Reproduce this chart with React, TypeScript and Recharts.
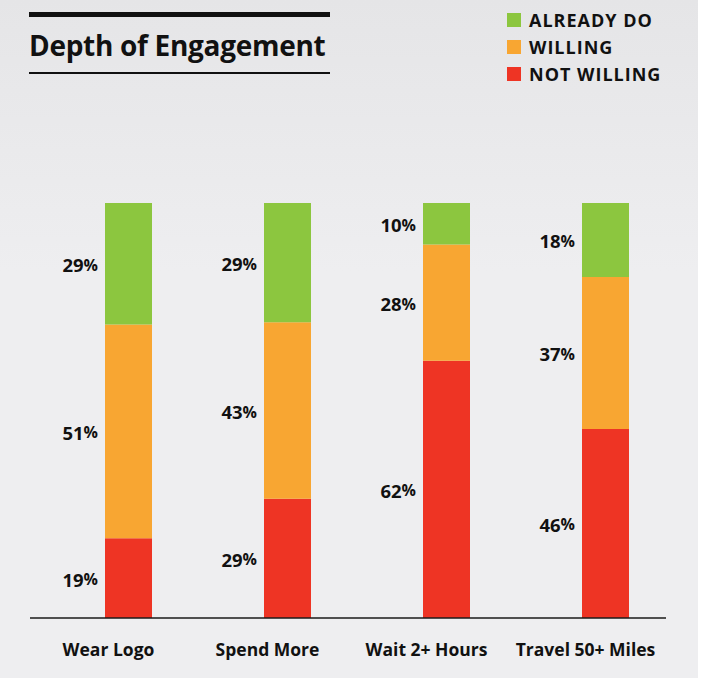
import { BarChart, Bar, XAxis, YAxis, LabelList, Rectangle } from "recharts";

const categories = ["Wear Logo", "Spend More", "Wait 2+ Hours", "Travel 50+ Miles"];
const notWilling = [19, 29, 62, 46];
const willing = [51, 43, 28, 37];
const alreadyDo = [29, 29, 10, 18];

const data = categories.map((name, i) => ({
  name,
  notWilling: notWilling[i],
  willing: willing[i],
  alreadyDo: alreadyDo[i],
}));

const FONT = "'Open Sans', 'Noto Sans', sans-serif";
const GREEN = "#8cc63f";
const ORANGE = "#f8a632";
const RED = "#ee3424";
// bars sit a little right of their category label
const SHIFT = 19;

const legendItems = [
  { label: "ALREADY DO", color: GREEN },
  { label: "WILLING", color: ORANGE },
  { label: "NOT WILLING", color: RED },
];

function ShiftedBar(props: any) {
  return <Rectangle {...props} x={props.x + SHIFT} />;
}

function PctLabel(props: any) {
  const { x, y, height, value } = props;
  if (value == null) return null;
  return (
    <text
      x={x + SHIFT - 7}
      y={y + height / 2 + 1}
      textAnchor="end"
      dominantBaseline="central"
      fontFamily={FONT}
      fontWeight={700}
      fontSize={18.5}
      fill="#111"
    >
      {value}
      <tspan fontSize={16}>%</tspan>
    </text>
  );
}

function CategoryTick(props: any) {
  const { x, y, payload } = props;
  return (
    <text
      x={x - 1}
      y={y + 23}
      textAnchor="middle"
      dominantBaseline="central"
      fontFamily={FONT}
      fontWeight={700}
      fontSize={17.5}
      fill="#111"
    >
      {payload.value}
    </text>
  );
}

export default function App() {
  return (
    <div
      style={{
        position: "fixed",
        left: 0,
        top: 0,
        width: 713,
        height: 678,
        background: "#fff",
        overflow: "hidden",
      }}
    >
      <div
        style={{
          position: "absolute",
          left: 0,
          top: 0,
          width: 698,
          height: 678,
          background: "linear-gradient(180deg, #e5e5e7 0%, #eeeef0 40%, #eeeef0 100%)",
        }}
      />
      <div style={{ position: "absolute", left: 29, top: 12, width: 301 }}>
        <div style={{ height: 5, background: "#111" }} />
        <div
          style={{
            fontFamily: FONT,
            fontWeight: 700,
            fontSize: 28,
            color: "#111",
            marginTop: 8,
            lineHeight: "40px",
            letterSpacing: -0.3,
          }}
        >
          Depth of Engagement
        </div>
        <div style={{ height: 1.5, background: "#111", marginTop: 7 }} />
      </div>
      <div
        style={{
          position: "absolute",
          left: 507,
          top: 6,
          fontFamily: FONT,
          fontWeight: 700,
          fontSize: 18,
          color: "#111",
        }}
      >
        {legendItems.map((it) => (
          <div key={it.label} style={{ display: "flex", alignItems: "center", height: 27 }}>
            <span style={{ width: 14, height: 14, background: it.color, marginRight: 8 }} />
            <span style={{ letterSpacing: 1 }}>{it.label}</span>
          </div>
        ))}
      </div>
      <BarChart
        width={713}
        height={678}
        data={data}
        stackOffset="expand"
        margin={{ top: 203, right: 47, bottom: 0, left: 30 }}
        barSize={47}
        style={{ position: "absolute", left: 0, top: 0 }}
      >
        <XAxis
          dataKey="name"
          height={60}
          axisLine={{ stroke: "#1a1a1a", strokeWidth: 1.5 }}
          tickLine={false}
          tick={<CategoryTick />}
          interval={0}
        />
        <YAxis hide domain={[0, 1]} />
        <Bar dataKey="notWilling" stackId="a" fill={RED} shape={<ShiftedBar />} isAnimationActive={false}>
          <LabelList dataKey="notWilling" content={<PctLabel />} />
        </Bar>
        <Bar dataKey="willing" stackId="a" fill={ORANGE} shape={<ShiftedBar />} isAnimationActive={false}>
          <LabelList dataKey="willing" content={<PctLabel />} />
        </Bar>
        <Bar dataKey="alreadyDo" stackId="a" fill={GREEN} shape={<ShiftedBar />} isAnimationActive={false}>
          <LabelList dataKey="alreadyDo" content={<PctLabel />} />
        </Bar>
      </BarChart>
    </div>
  );
}
